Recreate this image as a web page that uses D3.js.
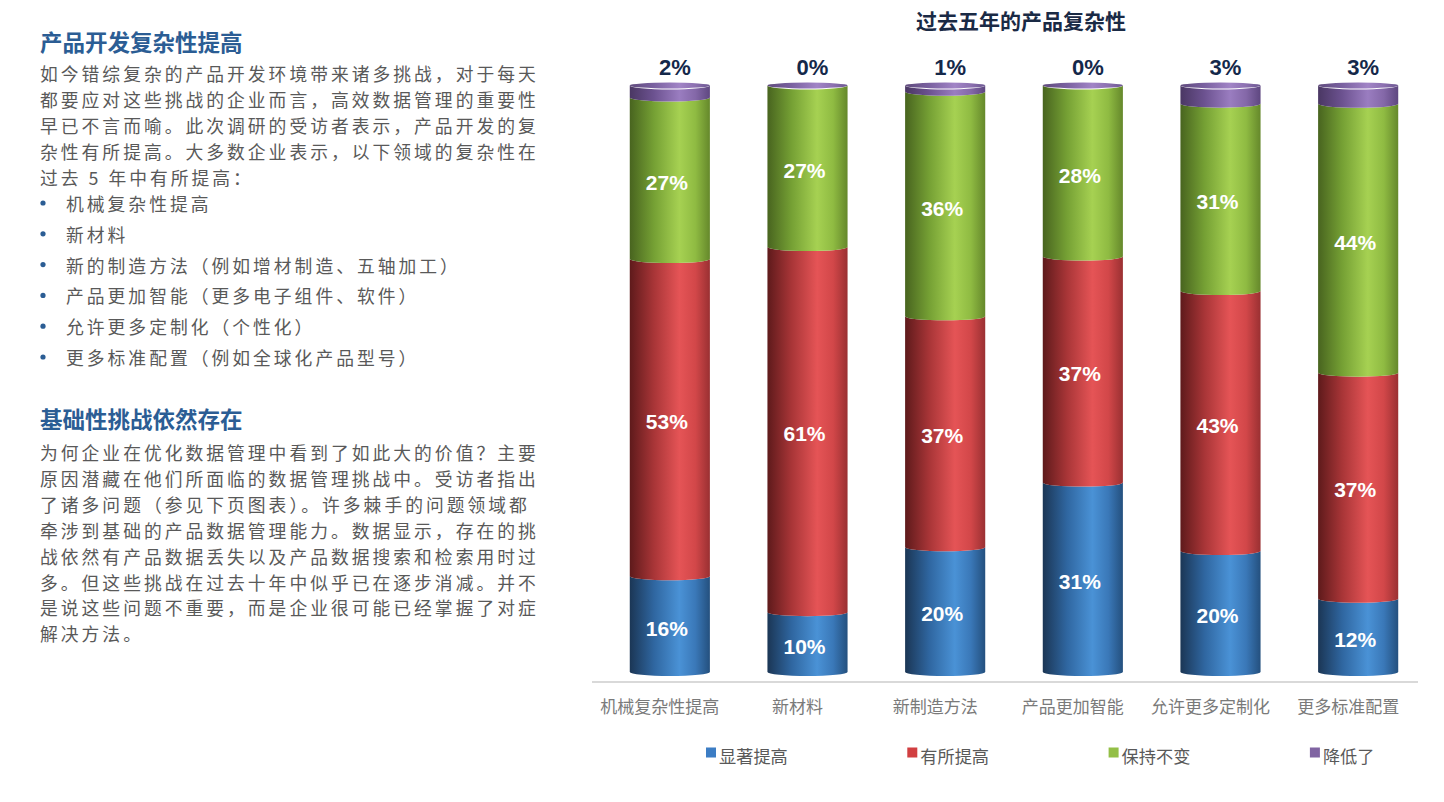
<!DOCTYPE html>
<html>
<head>
<meta charset="utf-8">
<script src="https://cdn.jsdelivr.net/npm/d3@7"></script>
<style>
  html, body { margin: 0; padding: 0; background: #fff; }
  svg { display: block; }
  .cjk { font-family: "Noto Sans CJK SC", sans-serif; }
  .num { font-family: "Liberation Sans", Arial, sans-serif; font-weight: bold; }
</style>
</head>
<body>
<svg id="page" width="1444" height="802"></svg>
<script>
// ---- data ----
const categories = ['机械复杂性提高', '新材料', '新制造方法', '产品更加智能', '允许更多定制化', '更多标准配置']
const seriesNames = ['显著提高', '有所提高', '保持不变', '降低了']
const significant = [16, 10, 20, 31, 20, 12]
const somewhat = [53, 61, 37, 37, 43, 37]
const unchanged = [27, 27, 36, 28, 31, 44]
const decreased = [2, 0, 1, 0, 3, 3]
const chartTitle = '过去五年的产品复杂性'

const heading1 = '产品开发复杂性提高'
const para1 = [
    '如今错综复杂的产品开发环境带来诸多挑战，对于每天',
    '都要应对这些挑战的企业而言，高效数据管理的重要性',
    '早已不言而喻。此次调研的受访者表示，产品开发的复',
    '杂性有所提高。大多数企业表示，以下领域的复杂性在',
    '过去 5 年中有所提高：'
]
const bullets = [
    '机械复杂性提高',
    '新材料',
    '新的制造方法（例如增材制造、五轴加工）',
    '产品更加智能（更多电子组件、软件）',
    '允许更多定制化（个性化）',
    '更多标准配置（例如全球化产品型号）'
]
const heading2 = '基础性挑战依然存在'
const para2 = [
    '为何企业在优化数据管理中看到了如此大的价值？主要',
    '原因潜藏在他们所面临的数据管理挑战中。受访者指出',
    '了诸多问题（参见下页图表）。许多棘手的问题领域都',
    '牵涉到基础的产品数据管理能力。数据显示，存在的挑',
    '战依然有产品数据丢失以及产品数据搜索和检索用时过',
    '多。但这些挑战在过去十年中似乎已在逐步消减。并不',
    '是说这些问题不重要，而是企业很可能已经掌握了对症',
    '解决方法。'
]

// ---- styles ----
const shades = [
    {key: 'blue', legend: '#3c7dc4', stops: ['#1b3655', '#2f66a0', '#4a92d6', '#3a78b8', '#24507e']},
    {key: 'red', legend: '#d13f41', stops: ['#5e1a1b', '#a83537', '#e55456', '#d24749', '#9a3032']},
    {key: 'green', legend: '#93bf46', stops: ['#48641f', '#75a034', '#a6d152', '#8fbb42', '#65882b']},
    {key: 'purple', legend: '#8064a2', stops: ['#4a3763', '#6c5290', '#9a7dc0', '#8468a8', '#5e4780']}
]
const capStops = ['#5f4a7c', '#7a61a0', '#a184c6', '#8c70b0', '#6b5690']
const headColor = '#2b5d94'
const bodyColor = '#595959'
// small glyphs spread to the reference's 20.8px cell, keeps lines from colliding
const bodySize = '17.8px'
const bodySpacing = '3px'

const svg = d3.select('#page')
const defs = svg.append('defs')

const addGrad = (id, stops) => {
    const g = defs.append('linearGradient')
        .attr('id', id)
        .attr('x1', '0%').attr('x2', '100%')
        .attr('y1', '0%').attr('y2', '0%')
    const offs = [0, 0.3, 0.62, 0.82, 1]
    stops.forEach((c, i) => g.append('stop').attr('offset', offs[i]).attr('stop-color', c))
}
shades.forEach(s => addGrad('g-' + s.key, s.stops))
addGrad('g-cap', capStops)

// ---- left text ----
const left = svg.append('g').attr('class', 'cjk')

const textBlock = (lines, x, y0, step) =>
    left.append('g')
        .selectAll('text')
        .data(lines)
        .enter().append('text')
        .attr('x', x)
        .attr('y', (d, i) => y0 + i * step)
        .attr('dominant-baseline', 'central')
        .style('font-size', bodySize)
        .style('letter-spacing', bodySpacing)
        .attr('fill', bodyColor)
        .text(d => d)

left.append('text')
    .attr('x', 40).attr('y', 41)
    .attr('dominant-baseline', 'central')
    .style('font-size', '22.5px').style('font-weight', 'bold')
    .attr('fill', headColor)
    .text(heading1)

textBlock(para1, 40, 73, 26)

left.append('g')
    .selectAll('circle')
    .data(bullets)
    .enter().append('circle')
    .attr('cx', 43).attr('cy', (d, i) => 203 + i * 30.8)
    .attr('r', 2.6).attr('fill', headColor)
textBlock(bullets, 66, 203, 30.8)

left.append('text')
    .attr('x', 40).attr('y', 418)
    .attr('dominant-baseline', 'central')
    .style('font-size', '22.5px').style('font-weight', 'bold')
    .attr('fill', headColor)
    .text(heading2)

textBlock(para2, 40, 452, 25.9)

// ---- chart ----
const rows = categories.map((c, i) => ({
    cat: c,
    [seriesNames[0]]: significant[i],
    [seriesNames[1]]: somewhat[i],
    [seriesNames[2]]: unchanged[i],
    [seriesNames[3]]: decreased[i]
}))

const stacked = d3.stack()
    .keys(seriesNames)
    .offset(d3.stackOffsetExpand)(rows)

const x = d3.scaleBand()
    .domain(categories)
    .range([601, 1427])
    .paddingInner(0.418)
    .paddingOuter(0.209)

const y = d3.scaleLinear()
    .domain([0, 1])
    .range([672, 85.5])

const rx = x.bandwidth() / 2
const ry = 4

const chart = svg.append('g')

chart.append('text')
    .attr('class', 'cjk')
    .attr('x', 1021).attr('y', 20)
    .attr('text-anchor', 'middle')
    .attr('dominant-baseline', 'central')
    .style('font-size', '21px').style('font-weight', 'bold')
    .attr('fill', '#1a2a45')
    .text(chartTitle)

// axis baseline
chart.append('line')
    .attr('x1', 592).attr('x2', 1418)
    .attr('y1', 682).attr('y2', 682)
    .attr('stroke', '#d9d9d9').attr('stroke-width', 2)

const segPath = (x0, x1, yTop, yBot) =>
    `M${x0},${yTop} A${rx},${ry} 0 0 0 ${x1},${yTop} L${x1},${yBot} A${rx},${ry} 0 0 1 ${x0},${yBot} Z`

stacked.forEach((layer, si) => {
    chart.append('g')
        .selectAll('path')
        .data(layer)
        .enter().append('path')
        .attr('d', d => {
            const x0 = x(d.data.cat)
            return segPath(x0, x0 + x.bandwidth(), y(d[1]), y(d[0]))
        })
        .attr('fill', `url(#g-${shades[si].key})`)
})

// top caps
chart.append('g')
    .selectAll('ellipse')
    .data(categories)
    .enter().append('ellipse')
    .attr('cx', d => x(d) + rx)
    .attr('cy', y(1))
    .attr('rx', rx).attr('ry', 3)
    .attr('fill', 'url(#g-cap)')

// labels inside (first three series)
stacked.slice(0, 3).forEach(layer => {
    chart.append('g')
        .selectAll('text')
        .data(layer)
        .enter().append('text')
        .attr('class', 'num')
        .attr('x', d => x(d.data.cat) + rx - 3)
        .attr('y', d => (y(d[0]) + y(d[1])) / 2 + 4)
        .attr('text-anchor', 'middle')
        .attr('dominant-baseline', 'central')
        .style('font-size', '21px')
        .attr('fill', '#fff')
        .text(d => d.data[layer.key] + '%')
})

// labels above (last series)
const topLayer = stacked[3]
chart.append('g')
    .selectAll('text')
    .data(topLayer)
    .enter().append('text')
    .attr('class', 'num')
    .attr('x', d => x(d.data.cat) + rx + 5)
    .attr('y', 75)
    .attr('text-anchor', 'middle')
    .style('font-size', '22px')
    .attr('fill', '#14284a')
    .text(d => d.data[topLayer.key] + '%')

// category labels
chart.append('g')
    .selectAll('text')
    .data(categories)
    .enter().append('text')
    .attr('class', 'cjk')
    .attr('x', d => x(d) + rx - 10)
    .attr('y', 705)
    .attr('text-anchor', 'middle')
    .attr('dominant-baseline', 'central')
    .style('font-size', '17px')
    .attr('fill', '#7a7a7a')
    .text(d => d)

// legend
const legend = chart.append('g')
    .selectAll('g')
    .data(seriesNames)
    .enter().append('g')
    .attr('transform', (d, i) => `translate(${706 + i * 201.3},755)`)
legend.append('rect')
    .attr('x', 0).attr('y', -7.5)
    .attr('width', 10).attr('height', 10)
    .attr('fill', (d, i) => shades[i].legend)
legend.append('text')
    .attr('class', 'cjk')
    .attr('x', 13).attr('y', 0)
    .attr('dominant-baseline', 'central')
    .style('font-size', '17.2px')
    .attr('fill', '#595959')
    .text(d => d)
</script>
</body>
</html>
